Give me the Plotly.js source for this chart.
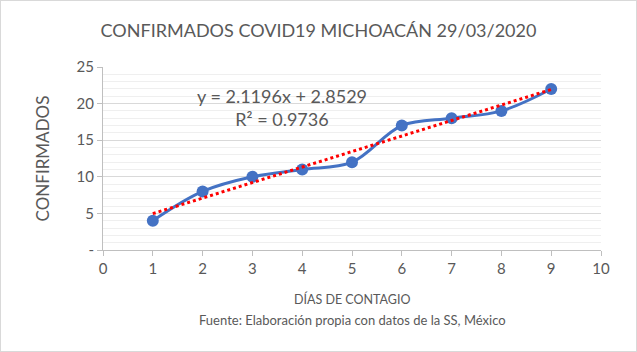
<!DOCTYPE html>
<html><head><meta charset="utf-8">
<script src="https://cdn.plot.ly/plotly-3.0.1.min.js"></script>
<style>
html,body{margin:0;padding:0;background:#fff;}
#wrap{width:637px;height:352px;box-sizing:border-box;border:1px solid #d9d9d9;overflow:hidden;}
#chart{width:635px;height:350px;}
</style></head>
<body><div id="wrap"><div id="chart"></div></div>
<script>
const dias = [1, 2, 3, 4, 5, 6, 7, 8, 9];
const confirmados = [4, 8, 10, 11, 12, 17, 18, 19, 22];
const trendSlope = 2.1196;
const trendIntercept = 2.8529;
const trendR2 = 0.9736;
const yTickVals = [0, 5, 10, 15, 20, 25];
const yTickText = ['-', '5', '10', '15', '20', '25'];
const xTickVals = [0,1,2,3,4,5,6,7,8,9,10];

const font = 'Lato, "Open Sans", sans-serif';
const grey = '#595959';

const trendX = [dias[0], dias[dias.length-1]];
const trendY = trendX.map(x => trendSlope*x + trendIntercept);

const data = [
  {x: dias, y: confirmados, type: 'scatter', mode: 'lines+markers',
   line: {color: '#4472C4', width: 3, shape: 'spline', smoothing: 1},
   marker: {color: '#4472C4', size: 12}, showlegend: false, hoverinfo: 'x+y'},
  {x: trendX, y: trendY, type: 'scatter', mode: 'lines',
   line: {color: '#FF0000', width: 3, dash: 'dot'}, showlegend: false}
];

const layout = {
  width: 635, height: 350,
  margin: {l: 102, r: 35, t: 66, b: 101},
  paper_bgcolor: '#fff', plot_bgcolor: '#fff',
  font: {family: font, color: grey},
  title: {text: 'CONFIRMADOS COVID19 MICHOACÁN 29/03/2020', font: {family: font, size: 18, color: grey},
          x: 0.5, xanchor: 'center', y: 0.915, yanchor: 'middle'},
  xaxis: {range: [0, 10], tickvals: xTickVals, showgrid: false, zeroline: false,
          showline: true, linecolor: '#bfbfbf', linewidth: 1,
          ticks: 'outside', ticklen: 5, tickcolor: '#bfbfbf',
          tickfont: {family: font, size: 15, color: grey}},
  yaxis: {range: [0, 25], tickvals: yTickVals, ticktext: yTickText,
          showgrid: true, gridcolor: '#d9d9d9', gridwidth: 1, zeroline: false,
          showline: true, linecolor: '#bfbfbf', linewidth: 1,
          ticks: 'outside', ticklen: 5, tickcolor: '#bfbfbf',
          tickfont: {family: font, size: 15, color: grey},
          minor: {dtick: 1, showgrid: true, gridcolor: '#efefef', gridwidth: 1},
          title: {text: 'CONFIRMADOS', font: {family: font, size: 17, color: grey}, standoff: 22}},
  annotations: [
    {xref: 'x', yref: 'y', x: 3.6, y: 19.4, showarrow: false, align: 'center',
     text: 'y = ' + trendSlope.toFixed(4) + 'x + ' + trendIntercept.toFixed(4) + '<br>R² = ' + trendR2.toFixed(4),
     font: {family: font, size: 18, color: grey}},
    {xref: 'paper', yref: 'paper', x: 0.5, y: -0.27, yanchor: 'middle', showarrow: false, text: 'DÍAS DE CONTAGIO',
     font: {family: font, size: 12.5, color: grey}},
    {xref: 'paper', yref: 'paper', x: 0.5, y: -0.38, yanchor: 'middle', showarrow: false, text: 'Fuente: Elaboración propia con datos de la SS, México',
     font: {family: font, size: 13, color: grey}}
  ]
};
Plotly.newPlot('chart', data, layout, {displayModeBar: false, staticPlot: true});
</script></body></html>
